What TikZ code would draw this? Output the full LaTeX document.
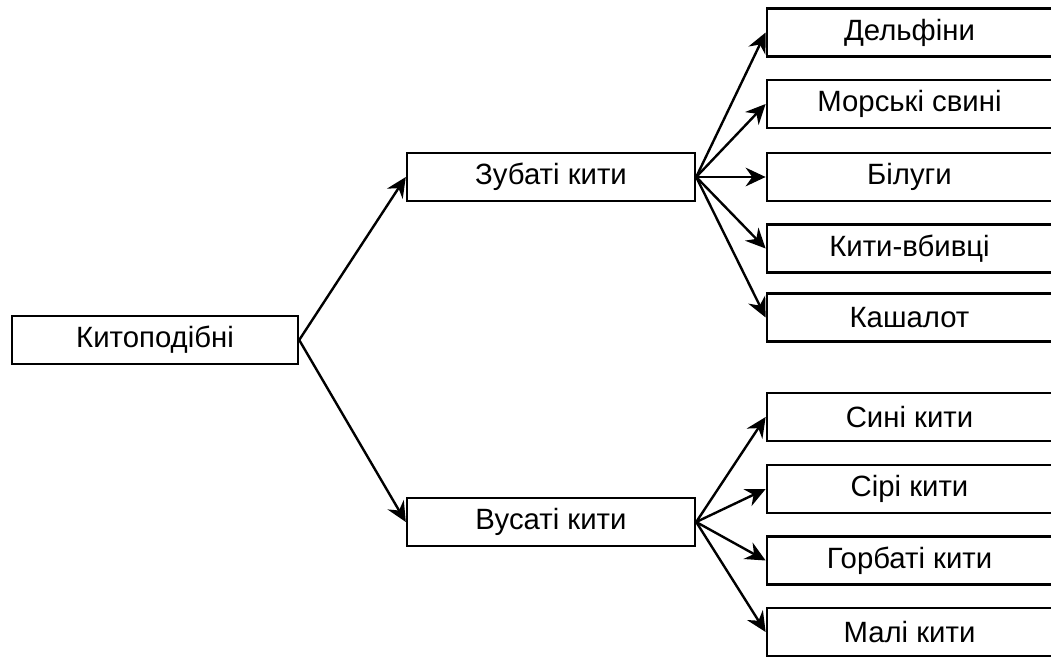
\documentclass[tikz,border=0pt]{standalone}
\usepackage{fontspec}
\setmainfont{Liberation Sans}
\usetikzlibrary{arrows.meta}
\begin{document}
\begin{tikzpicture}[x=0.75pt,y=-0.75pt,
  box/.style={draw, line width=1.8pt, minimum height=36pt, inner sep=0pt,
    font=\fontsize{22}{26}\selectfont},
  rootbox/.style={box, minimum width=214.5pt},
  midbox/.style={box, minimum width=216pt},
  leafbox/.style={box, minimum width=214pt},
  link/.style={line width=1.8pt, -{Stealth[length=15pt,width=14pt,inset=5pt]}}]
\useasboundingbox (0,0) rectangle (1051,657);
\clip (0,0) rectangle (1051,657);

% root
\node[rootbox] (root) at (155,340) {Китоподібні};

% suborders
\node[midbox] (zub) at (551,177) {Зубаті кити};
\node[midbox] (vus) at (551,522) {Вусаті кити};

% toothed whales
\node[leafbox] (l1) at (909.5,32.5) {Дельфіни};
\node[leafbox] (l2) at (909.5,104) {Морські свині};
\node[leafbox] (l3) at (909.5,177) {Білуги};
\node[leafbox] (l4) at (909.5,248.5) {Кити-вбивці};
\node[leafbox] (l5) at (909.5,317.5) {Кашалот};

% baleen whales
\node[leafbox] (b1) at (909.5,417) {Сині кити};
\node[leafbox] (b2) at (909.5,489) {Сірі кити};
\node[leafbox] (b3) at (909.5,560.5) {Горбаті кити};
\node[leafbox] (b4) at (909.5,632) {Малі кити};

% connectors
\draw[link] (root.east) -- (zub.west);
\draw[link] (root.east) -- (vus.west);
\foreach \t in {l1,l2,l3,l4,l5} \draw[link] (zub.east) -- (\t.west);
\foreach \t in {b1,b2,b3,b4} \draw[link] (vus.east) -- (\t.west);
\end{tikzpicture}
\end{document}
